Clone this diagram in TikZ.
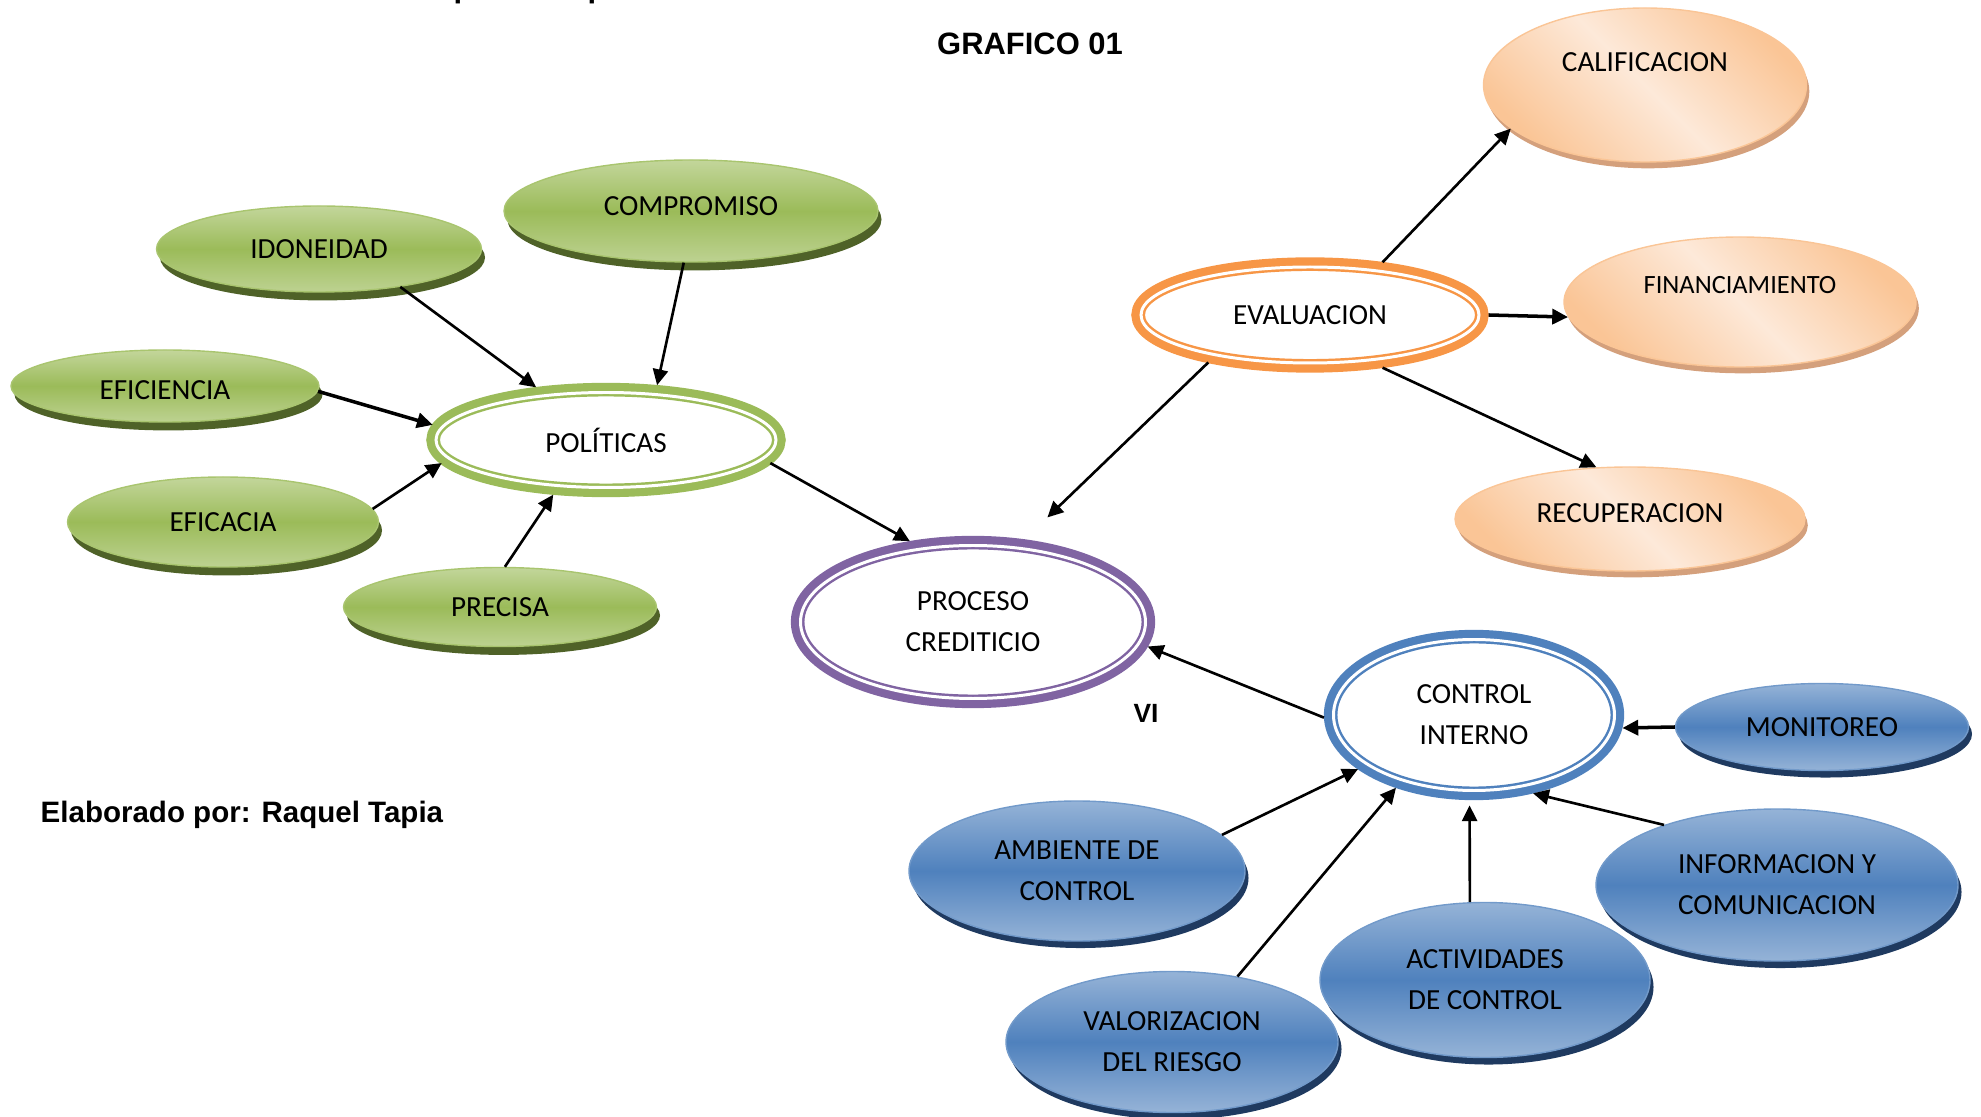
\documentclass[tikz,border=0pt]{standalone}
\usepackage{fontspec}
\setmainfont{Carlito}
\newfontfamily\arialfont{Liberation Sans}
\usetikzlibrary{shapes.geometric,shadows,arrows.meta}

\definecolor{verde}{HTML}{9BBB59}
\definecolor{verdeclaro}{HTML}{C3D69B}
\definecolor{verdeborde}{HTML}{A9C56F}
\definecolor{verdesombra}{HTML}{4F6228}
\definecolor{naranja}{HTML}{F79646}
\definecolor{durazno}{HTML}{FAC596}
\definecolor{duraznoclaro}{HTML}{FDE9D9}
\definecolor{duraznosombra}{HTML}{D4A07C}
\definecolor{azul}{HTML}{4F81BD}
\definecolor{azulclaro}{HTML}{95B3D7}
\definecolor{azulsombra}{HTML}{1F3A60}
\definecolor{morado}{HTML}{8064A2}

\begin{document}
\begin{tikzpicture}[x=0.1mm, y=-0.1mm, >={Triangle[length=4.5pt,width=4.3pt]},
    every node/.style={font=\fontsize{8.3}{11.7}\selectfont, align=center, inner sep=0pt},
    texto/.style={font=\arialfont\bfseries\fontsize{8.8}{10.5}\selectfont},
    flecha/.style={->, line width=0.75pt},
    anillo/.style={ellipse, fill=white, draw=#1, line width=0.7pt, double=white, double distance=0.85pt,
        preaction={draw=#1, line width=5.5pt}, outer sep=2.75pt},
    hojaverde/.style={ellipse, top color=verdeclaro, bottom color=verdeclaro!85!verde, middle color=verde,
        draw=verdeborde, line width=0.4pt, drop shadow={fill=verdesombra, opacity=1, shadow xshift=1pt, shadow yshift=-2.4pt}},
    hojanaranja/.style={ellipse, top color=durazno, bottom color=durazno, middle color=duraznoclaro, shading angle=-45,
        draw=durazno, line width=0.4pt, drop shadow={fill=duraznosombra, opacity=1, shadow xshift=0.8pt, shadow yshift=-1.8pt}},
    hojaazul/.style={ellipse, top color=azulclaro, bottom color=azulclaro, middle color=azul,
        draw=azul!80!white, line width=0.4pt, drop shadow={fill=azulsombra, opacity=1, shadow xshift=1pt, shadow yshift=-2pt}}]
        \useasboundingbox (0,0) rectangle (1981,1117);

        \node[texto, anchor=base](encabezado) at (622,-2){Cuadro de mapa conceptual del Proceso Crediticio};
        \node[texto](titulo) at (1030,44){GRAFICO 01};
        \node[texto, anchor=west, font=\arialfont\bfseries\fontsize{8.4}{10}\selectfont](autora) at (40,815){Elaborado por: Raquel Tapia};
        \node[texto, font=\arialfont\bfseries\fontsize{7.5}{9}\selectfont](vi) at (1146,713){VI};

        % politicas
        \node[anillo=verde, minimum width=34mm, minimum height=9.5mm](politicas) at (606,440){POLÍTICAS};
        \node[hojaverde, minimum width=32.5mm, minimum height=8.6mm](idoneidad) at (319,249){IDONEIDAD};
        \node[hojaverde, minimum width=37.4mm, minimum height=10.2mm](compromiso) at (691,211){\raisebox{2.8pt}{COMPROMISO}};
        \node[hojaverde, minimum width=30.8mm, minimum height=7.2mm](eficiencia) at (165,386){\raisebox{-3.8pt}[0pt][0pt]{EFICIENCIA}};
        \node[hojaverde, minimum width=31.1mm, minimum height=9mm](eficacia) at (223,522){EFICACIA};
        \node[hojaverde, minimum width=31.3mm, minimum height=7.9mm](precisa) at (500,607){PRECISA};

        \node[anillo=morado, minimum width=34.5mm, minimum height=15.3mm](proceso) at (973,622){PROCESO\\CREDITICIO};

        % evaluacion
        \node[anillo=naranja, minimum width=33.8mm, minimum height=9.6mm](evaluacion) at (1310,315){EVALUACION};
        \node[hojanaranja, minimum width=32.3mm, minimum height=15.4mm](calificacion) at (1645,85){\raisebox{13pt}{CALIFICACION}};
        \node[hojanaranja, minimum width=35.2mm, minimum height=13mm, font=\fontsize{7.5}{9}\selectfont](financiamiento) at (1740,302){\raisebox{9.7pt}{FINANCIAMIENTO}};
        \node[hojanaranja, minimum width=35mm, minimum height=10.4mm](recuperacion) at (1630,519){\raisebox{3.4pt}{RECUPERACION}};

        % control interno
        \node[anillo=azul, minimum width=28.1mm, minimum height=15.1mm](control) at (1474,715){CONTROL\\INTERNO};
        \node[hojaazul, minimum width=29.3mm, minimum height=8.7mm](monitoreo) at (1822,727){MONITOREO};
        \node[hojaazul, minimum width=33.6mm, minimum height=14mm](ambiente) at (1077,871){AMBIENTE DE\\CONTROL};
        \node[hojaazul, minimum width=36.2mm, minimum height=15.2mm](informacion) at (1777,885){INFORMACION Y\\COMUNICACION};
        \node[hojaazul, minimum width=33mm, minimum height=15.5mm](actividades) at (1485,980){ACTIVIDADES\\DE CONTROL};
        \node[hojaazul, minimum width=33.2mm, minimum height=14.1mm](valorizacion) at (1172,1042){VALORIZACION\\DEL RIESGO};

        \draw[flecha] (idoneidad.-25) -- (politicas.143);
        \draw[flecha] (compromiso.-98) -- (politicas.47);
        \draw[flecha, line width=1pt] (eficiencia.-2) -- (politicas.175);
        \draw[flecha] (eficacia.5) -- (politicas.-172);
        \draw[flecha] (precisa.83) -- (politicas.-134);
        \draw[flecha] (politicas.-8) -- (proceso.128);
        \draw[flecha, shorten >=9pt] (evaluacion.-155) -- (proceso.58);
        \draw[flecha] (evaluacion.36) -- (calificacion.-162);
        \draw[flecha, line width=1pt] (evaluacion.0) -- (financiamiento.-175);
        \draw[flecha] (evaluacion.-36) -- (recuperacion.123);
        \draw[flecha] (control.-179) -- (proceso.-8);
        \draw[flecha, line width=1pt] (monitoreo.180) -- (control.-5);
        \draw[flecha] (ambiente.14) -- (control.-155);
        \draw[flecha] (valorizacion.45) -- (control.-137);
        \draw[flecha, shorten >=1.5pt] (actividades.101) -- (control.-93);
        \draw[flecha] (informacion.152) -- (control.-53);
      \end{tikzpicture}
\end{document}
